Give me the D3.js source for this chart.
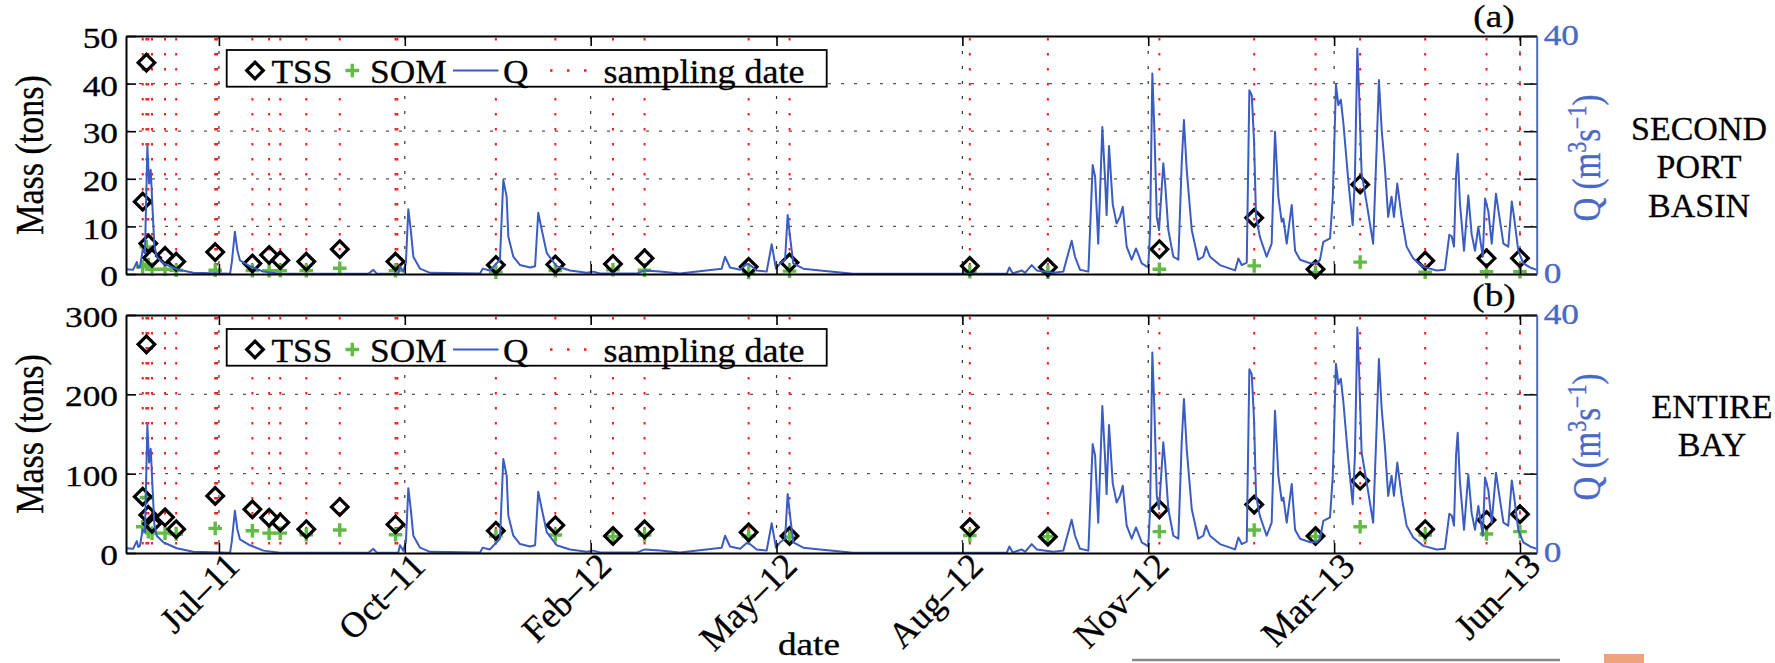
<!DOCTYPE html>
<html>
<head>
<meta charset="utf-8">
<script src="https://cdn.jsdelivr.net/npm/d3@7"></script>
<style>
  body { margin: 0; background: #fff; }
  svg { display: block; }
  text { font-family: "Liberation Serif", "Times New Roman", serif; }
</style>
</head>
<body>
<script>
// TSS / SOM loads with river discharge, two panels sharing the date axis
const width = 1775;
const height = 663;

// sampling campaigns (red dotted lines), and measured loads in tons
const sampleDates = [
  "2011-06-05", "2011-06-07", "2011-06-08", "2011-06-10", "2011-06-17", "2011-06-23",
  "2011-07-14", "2011-07-15", "2011-08-03", "2011-08-12", "2011-08-18", "2011-09-01",
  "2011-09-19", "2011-10-19", "2011-10-20", "2011-12-12", "2012-01-13", "2012-02-13",
  "2012-03-01", "2012-04-26", "2012-05-18", "2012-08-23", "2012-10-04", "2012-12-03",
  "2013-01-23", "2013-02-25", "2013-03-21", "2013-04-25", "2013-05-28", "2013-06-15"
];
const tssPort = [15.2, 44.4, 6.4, 3.4, 3.8, 2.6, 4.6, null, 2.2, 4.0, 2.9, 2.6, 5.2, 2.6, null,
  1.9, 2.0, 2.1, 3.3, 1.5, 2.4, 1.7, 1.4, 5.2, 11.8, 1.0, 18.8, 2.8, 3.3, 3.3];
const somPort = [1.5, 5.7, 2.0, 1.0, 1.0, 0.8, 0.8, null, 0.7, 0.7, 0.7, 0.7, 1.2, 0.7, null,
  0.4, 0.7, 0.9, 0.8, 0.3, 0.6, 0.5, 0.4, 1.0, 1.7, 0.3, 2.5, 0.4, 0.5, 0.5];
const tssBay = [71, 263, 48, 37, 45, 30, 72, null, 55, 44.5, 38.6, 30, 58, 36, null,
  28, 35, 21.4, 29.8, 26, 21.4, 32.4, 20.6, 55, 61, 21.4, 91, 30, 41.6, 49];
const somBay = [33, 70, 27, 25, 25, 24, 31, null, 28, 25, 25, 23, 29, 23, null,
  21.4, 22.7, 20.7, 22.7, 21.4, 20, 22, 20.6, 27, 29, 21, 33, 22.7, 24, 27];

// discharge Q (m3/s), days counted from 2011-05-27
const qStart = "2011-05-27";
const qDay = [0, 3.8, 5.8, 6.6, 7.5, 9.0, 10.2, 11.5, 12.4, 13.3, 14.4, 15.2, 16.5, 20.1, 23.7, 27.3,
  36.2, 56, 56.9, 58.6, 59.9, 61.3, 66.7, 73.9, 82.9, 130.4, 133.1, 134.9, 146.5, 147.4, 149.2,
  150.6, 151.9, 153.2, 154.6, 158.2, 163.6, 190.5, 191.9, 195.8, 201.2, 203.0, 204.8, 205.7, 208.4,
  212, 217.4, 220.1, 221.8, 223.7, 226.4, 231.7, 238.9, 247.9, 251.4, 255, 275, 279.2, 287.3, 298,
  320.5, 322.3, 325, 330.4, 334, 335.7, 339.3, 344.7, 347.4, 349.7, 351.9, 354.6, 356, 357.3, 359,
  364.4, 373.4, 391.2, 473.9, 475.3, 477.1, 481.9, 483.7, 487.3, 490, 498.9, 504.3, 508.8, 510.6,
  513.3, 517.8, 520.1, 521.4, 523.1, 525.3, 526.7, 527.6, 528.9, 530.9, 533, 534.8, 536.3, 538.4,
  541.1, 543.4, 546.5, 550, 551, 552.2, 553.3, 554.6, 555.8, 557.3, 558.1, 559.1, 560.8, 563.5,
  566.2, 568, 569.2, 570.7, 573.4, 576.9, 579.6, 581.1, 583.2, 588.6, 596.7, 598.5, 600.3, 603,
  604.4, 605.7, 606.9, 608, 610.1, 613.7, 616.4, 618.2, 620, 621.8, 622.7, 624.5, 627.2, 629,
  631.7, 637.1, 640.6, 642.4, 644.2, 647.8, 649.3, 651, 652.3, 653.6, 655, 657.6, 660, 661.2,
  662.5, 663.4, 664.8, 667.5, 671, 672.9, 674.1, 675.6, 677.3, 679.1, 680.9, 682.2, 684, 686.3,
  689, 692.6, 698, 705.2, 709.6, 712, 713.3, 714.5, 715.6, 716.5, 717.7, 719.9, 722.2, 724,
  725.8, 727.6, 730, 731.2, 733, 734.8, 737.1, 738.4, 741.1, 743.7, 745.6, 746.8, 749.1, 751.8,
  755.4, 759];
const qVal = [0.8, 0.7, 2.0, 1.0, 1.2, 4.0, 3.5, 21.5, 15.2, 17.5, 10.2, 5.0, 2.9, 1.8, 1.3, 0.8,
  0.2, 0.05, 1.9, 7.1, 4.0, 2.3, 1.3, 0.4, 0.05, 0.05, 0.7, 0.05, 0.1, 1.3, 0.4,
  1.9, 10.9, 7.4, 2.9, 0.9, 0.2, 0.1, 0.9, 0.6, 2.4, 15.8, 13.0, 6.3, 2.9,
  1.5, 1.1, 1.3, 10.3, 7.4, 3.5, 1.3, 0.6, 0.2, 0.4, 0.1, 0.1, 0.6, 0.4, 0.1,
  0.9, 2.9, 1.1, 0.7, 1.7, 1.5, 0.6, 0.4, 5.0, 0.9, 1.8, 2.4, 9.9, 6.2, 1.8,
  0.9, 0.6, 0.05, 0.05, 1.1, 0.1, 0.6, 0.2, 1.5, 0.6, 0.2, 0.4, 5.6, 2.9,
  0.7, 0.4, 18.3, 16.4, 5.1, 24.7, 16.4, 9.9, 21.5, 11.7, 8.5, 9.6, 11.3, 4.6,
  2.4, 4.3, 1.8, 1.1, 7.4, 33.7, 24.2, 9.6, 7.4, 14.7, 18.6, 15.2, 7.4, 2.9,
  2.4, 18.6, 25.9, 17.5, 7.4, 2.4, 2.9, 4.6, 2.9, 1.5, 0.6, 2.6, 1.5, 1.9,
  30.9, 30.0, 22.5, 9.6, 6.2, 2.9, 5.1, 23.9, 13.0, 8.8, 9.3, 5.1, 11.6, 3.9,
  2.4, 1.8, 1.8, 2.4, 5.4, 6.0, 13.0, 31.8, 28.4, 29.3, 25.3, 15.8, 8.2, 16.4,
  37.9, 30.9, 16.9, 11.9, 5.1, 21.4, 32.6, 24.2, 18.0, 9.6, 13.0, 9.6, 15.2, 9.6,
  4.6, 2.6, 1.2, 0.6, 0.7, 6.6, 6.3, 4.6, 16.4, 20.2, 11.9, 3.9, 13.2, 6.7,
  3.9, 7.9, 2.9, 12.7, 10.5, 5.1, 13.5, 10.7, 5.1, 4.6, 12.2, 9.6, 3.9, 1.8,
  1.1, 0.7];

// axis ticks
const dateTicks = ["2011-07-16", "2011-10-24", "2012-02-01", "2012-05-11",
  "2012-08-19", "2012-11-27", "2013-03-07", "2013-06-15"];
const dateDomain = ["2011-05-27", "2013-06-24"];
const portMassTicks = [0, 10, 20, 30, 40, 50];
const bayMassTicks = [0, 100, 200, 300];
const qMax = 40;

const parse = d3.timeParse("%Y-%m-%d");
const fmt = d3.timeFormat("%b\u2013%y");
const serif = "'Liberation Serif', 'Times New Roman', serif";
const qBlue = "#3b5cc0";
const axisBlue = "#4a68c8";
const green = "#62bb45";
const ink = 0.3; // extra stroke so the text reads as heavy as the scanned figure

const t0 = parse(qStart);
const qData = qDay.map((d, i) => ({ date: new Date(t0.getTime() + d * 864e5), q: qVal[i] }));
const samples = sampleDates.map((d, i) => ({
  date: parse(d), tssP: tssPort[i], somP: somPort[i], tssB: tssBay[i], somB: somBay[i]
}));

const svg = d3.select("body").append("svg")
  .attr("width", width).attr("height", height);

const x = d3.scaleTime()
  .domain(dateDomain.map(parse))
  .range([126, 1536.7]);

const panels = [
  { top: 36, bottom: 274, max: 50, ticks: portMassTicks, tss: "tssP", som: "somP",
    tag: "(a)", name: ["SECOND", "PORT", "BASIN"], nameX: 1699, nameY: 140 },
  { top: 315, bottom: 553, max: 300, ticks: bayMassTicks, tss: "tssB", som: "somB",
    tag: "(b)", name: ["ENTIRE", "BAY"], nameX: 1712, nameY: 418 }
];

// helper: text stretched horizontally like the source figure
const stext = (g, px, py, str, size, sx, opts = {}) => {
  const fill = opts.fill || "#000";
  const t = g.append("text")
    .attr("transform", `translate(${px},${py}) scale(${sx},1)` + (opts.rotate ? ` rotate(${opts.rotate})` : ""))
    .attr("font-family", serif)
    .attr("font-size", size)
    .attr("text-anchor", opts.anchor || "start")
    .attr("fill", fill)
    .attr("stroke", fill).attr("stroke-width", ink);
  if (str) t.text(str);
  return t;
};

const diamond = "M0,-8.3L8.3,0L0,8.3L-8.3,0Z";
const plus = "M-6.8,0H6.8M0,-6.8V6.8";

panels.forEach((p, pi) => {
  const y = d3.scaleLinear().domain([0, p.max]).range([p.bottom, p.top]);
  const yq = d3.scaleLinear().domain([0, qMax]).range([p.bottom, p.top]);
  const qTicks = p.ticks.map((v) => (v / p.max) * qMax);
  const g = svg.append("g");

  // grid
  g.append("g").selectAll("line")
    .data(p.ticks.filter((v) => v > 0 && v < p.max))
    .join("line")
    .attr("x1", x.range()[0]).attr("x2", x.range()[1])
    .attr("y1", (d) => y(d)).attr("y2", (d) => y(d))
    .attr("stroke", "#555").attr("stroke-width", 1.2)
    .attr("stroke-dasharray", "3,10");

  g.append("g").selectAll("line")
    .data(dateTicks.map(parse))
    .join("line")
    .attr("x1", (d) => x(d)).attr("x2", (d) => x(d))
    .attr("y1", p.top).attr("y2", p.bottom)
    .attr("stroke", "#333").attr("stroke-width", 1.2)
    .attr("stroke-dasharray", "3,12");

  // sampling dates
  g.append("g").selectAll("line")
    .data(samples)
    .join("line")
    .attr("x1", (d) => x(d.date)).attr("x2", (d) => x(d.date))
    .attr("y1", p.top + 2).attr("y2", p.bottom)
    .attr("stroke", "#ff1a1a").attr("stroke-width", 2)
    .attr("stroke-dasharray", "2.5,12.5");

  // markers
  const withVals = samples.filter((d) => d[p.tss] != null);
  g.append("g").selectAll("path")
    .data(withVals)
    .join("path")
    .attr("d", plus)
    .attr("transform", (d) => `translate(${x(d.date)},${y(d[p.som])})`)
    .attr("stroke", green).attr("stroke-width", 3.4).attr("fill", "none");

  g.append("g").selectAll("path")
    .data(withVals)
    .join("path")
    .attr("d", diamond)
    .attr("transform", (d) => `translate(${x(d.date)},${y(d[p.tss])})`)
    .attr("stroke", "#000").attr("stroke-width", 3.2).attr("fill", "none");

  // discharge
  g.append("path")
    .datum(qData)
    .attr("d", d3.line().x((d) => x(d.date)).y((d) => yq(d.q)))
    .attr("fill", "none")
    .attr("stroke", qBlue).attr("stroke-width", 2)
    .attr("stroke-linejoin", "round");

  // axes
  const styleAxis = (sel) => {
    sel.attr("font-family", serif);
    sel.selectAll(".tick line").attr("stroke-width", 1.6);
    sel.select(".domain").attr("stroke-width", 2);
  };

  g.append("g")
    .attr("transform", `translate(0,${p.top})`)
    .call(d3.axisTop(x).tickValues(dateTicks.map(parse)).tickSize(-10).tickSizeOuter(0).tickFormat(""))
    .call(styleAxis);

  const xb = g.append("g")
    .attr("transform", `translate(0,${p.bottom})`)
    .call(d3.axisBottom(x).tickValues(dateTicks.map(parse)).tickSize(-10).tickSizeOuter(0)
      .tickFormat(pi === 1 ? fmt : ""))
    .call(styleAxis);
  xb.selectAll(".tick text")
    .attr("y", 0).attr("dy", 0)
    .attr("font-size", 36).attr("fill", "#000")
    .attr("stroke", "#000").attr("stroke-width", ink)
    .attr("text-anchor", "end")
    .attr("transform", "translate(22,15) rotate(-45)");

  const yl = g.append("g")
    .attr("transform", `translate(${x.range()[0]},0)`)
    .call(d3.axisLeft(y).tickValues(p.ticks).tickSize(-10).tickSizeOuter(0).tickPadding(0))
    .call(styleAxis);
  yl.selectAll(".tick text")
    .attr("x", -8 / 1.22).attr("dy", "0.4em")
    .attr("font-size", 29).attr("fill", "#000")
    .attr("stroke", "#000").attr("stroke-width", ink)
    .attr("transform", "scale(1.22,1)");

  const yr = g.append("g")
    .attr("transform", `translate(${x.range()[1]},0)`)
    .call(d3.axisRight(yq).tickValues(qTicks).tickSize(-13).tickSizeOuter(0).tickPadding(0)
      .tickFormat((d) => (d === 0 || d === qMax ? d : "")))
    .call(styleAxis);
  yr.select(".domain").attr("stroke", axisBlue);
  yr.selectAll(".tick line").attr("stroke", "#111");
  yr.selectAll(".tick text")
    .attr("x", 7 / 1.22).attr("dy", "0.3em")
    .attr("font-size", 29).attr("fill", axisBlue)
    .attr("stroke", axisBlue).attr("stroke-width", ink)
    .attr("transform", "scale(1.22,1)");

  // axis titles
  stext(g, 43, (p.top + p.bottom) / 2, "Mass (tons)", 34, 1.2, { rotate: -90, anchor: "middle" });

  const ql = stext(g, 1600, (p.top + p.bottom) / 2 + 3, null, 33, 1.2,
    { rotate: -90, anchor: "middle", fill: axisBlue });
  ql.append("tspan").text("Q (m");
  ql.append("tspan").attr("dy", -12).attr("font-size", 22).text("3");
  ql.append("tspan").attr("dy", 12).text("s");
  ql.append("tspan").attr("dy", -12).attr("font-size", 22).text("\u22121");
  ql.append("tspan").attr("dy", 12).text(")");

  stext(g, 1494, p.top - 9, p.tag, 31, 1.2, { anchor: "middle" });

  p.name.forEach((line, i) => {
    g.append("text")
      .attr("x", p.nameX).attr("y", p.nameY + i * 38.4)
      .attr("text-anchor", "middle")
      .attr("font-family", serif).attr("font-size", 34)
      .attr("stroke", "#000").attr("stroke-width", ink)
      .text(line);
  });

  // legend
  const ly = p.top + 14;
  const lg = g.append("g");
  lg.append("rect")
    .attr("x", 226.7).attr("y", ly).attr("width", 600).attr("height", 36.7)
    .attr("fill", "#fff").attr("stroke", "#000").attr("stroke-width", 1.8);
  const cy = ly + 20.5;
  const by = ly + 33;
  lg.append("path").attr("d", diamond).attr("transform", `translate(255,${cy})`)
    .attr("stroke", "#000").attr("stroke-width", 3.2).attr("fill", "none");
  stext(lg, 271.5, by, "TSS", 34, 1.04);
  lg.append("path").attr("d", plus).attr("transform", `translate(352.3,${cy})`)
    .attr("stroke", green).attr("stroke-width", 3.4).attr("fill", "none");
  stext(lg, 370, by, "SOM", 34, 1.04);
  lg.append("line").attr("x1", 453).attr("x2", 498.5).attr("y1", cy).attr("y2", cy)
    .attr("stroke", qBlue).attr("stroke-width", 2);
  stext(lg, 503, by, "Q", 34, 1.04);
  lg.append("line").attr("x1", 550).attr("x2", 590).attr("y1", cy).attr("y2", cy)
    .attr("stroke", "#ff1a1a").attr("stroke-width", 2.5).attr("stroke-dasharray", "2.5,14.5");
  stext(lg, 603.5, by, "sampling date", 34, 1.06);
});

// x label
stext(svg, 809, 655, "date", 31, 1.2, { anchor: "middle" });

// slide remnants at the bottom edge
svg.append("line").attr("x1", 1132).attr("x2", 1560).attr("y1", 660).attr("y2", 660)
  .attr("stroke", "#888").attr("stroke-width", 2.5);
svg.append("rect").attr("x", 1604).attr("y", 654).attr("width", 40).attr("height", 9)
  .attr("fill", "#eda27a");
</script>
</body>
</html>
